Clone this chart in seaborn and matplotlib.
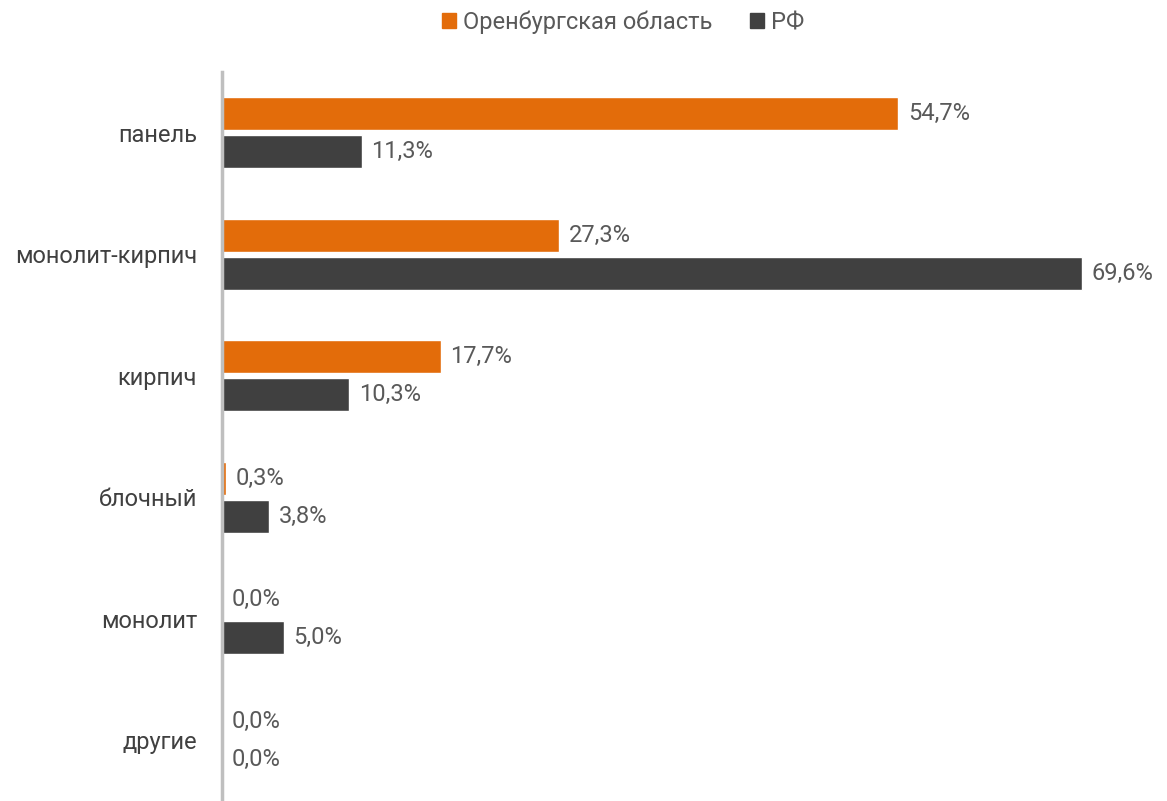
import seaborn as sns
import matplotlib.pyplot as plt
import pandas as pd

categories = ["панель", "монолит-кирпич", "кирпич", "блочный", "монолит", "другие"]
region = [54.7, 27.3, 17.7, 0.3, 0.0, 0.0]
russia = [11.3, 69.6, 10.3, 3.8, 5.0, 0.0]
series_names = ["Оренбургская область", "РФ"]
colors = ["#E36C0A", "#404040"]


def fmt(v):
    return f"{v:.1f}".replace(".", ",") + "%"


def main():
    df = pd.DataFrame({"cat": categories, series_names[0]: region, series_names[1]: russia})
    df = df.melt(id_vars="cat", var_name="series", value_name="value")

    sns.set_style("white")
    plt.rcParams["font.family"] = ["Roboto", "DejaVu Sans"]

    fig = plt.figure(figsize=(11.67, 8.01), dpi=100)
    ax = fig.add_axes([222 / 1167, 0.0, (1140 - 222) / 1167, 729 / 801])

    sns.barplot(data=df, y="cat", x="value", hue="series", palette=colors,
                saturation=1, orient="h", width=0.62, gap=0.12, ax=ax, legend=True)

    ax.set_xlim(0, (1140 - 222) / 12.36)
    ax.set_ylim(5.5, -0.5)
    ax.set_xlabel("")
    ax.set_ylabel("")
    ax.set_xticks([])
    ax.tick_params(axis="y", length=0, pad=18, labelsize=17, labelcolor="#404040")

    for s in ["top", "right", "bottom"]:
        ax.spines[s].set_visible(False)
    ax.spines["left"].set_color("#BFBFBF")
    ax.spines["left"].set_linewidth(2.5)

    for cont, vals in zip(ax.containers, [region, russia]):
        ax.bar_label(cont, labels=[fmt(v) for v in vals], padding=7,
                     fontsize=17, color="#595959")

    ax.legend_.remove()
    handles = [plt.Rectangle((0, 0), 1, 1, color=c) for c in colors]
    fig.legend(handles, series_names, loc="center", bbox_to_anchor=(0.534, 0.972),
               ncol=2, frameon=False, fontsize=17, handlelength=0.6, handleheight=0.6,
               handletextpad=0.3, columnspacing=1.6, labelcolor="#595959")

    fig.savefig("out.png", dpi=100)


if __name__ == "__main__":
    main()
